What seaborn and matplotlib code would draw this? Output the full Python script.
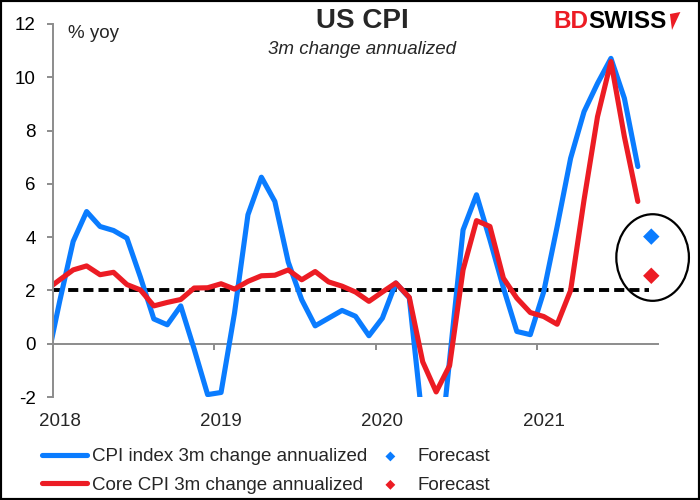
import numpy as np
import pandas as pd
import matplotlib
matplotlib.use("Agg")
import matplotlib.pyplot as plt
import seaborn as sns
from matplotlib.patches import Ellipse, Rectangle, Polygon
from matplotlib.transforms import blended_transform_factory

# ---------------- data ----------------
months = pd.period_range("2017-12", "2021-08", freq="M")
cpi_3m = [-0.8,
          1.6, 3.84, 4.96, 4.40, 4.25, 3.96, 2.5, 0.93, 0.71, 1.42, -0.2, -1.91,
          -1.83, 1.15, 4.84, 6.25, 5.34, 3.06, 1.65, 0.67, 0.96, 1.25, 1.03, 0.30,
          0.96, 2.28, 1.72, -3.0, -5.5, -0.6, 4.27, 5.59, 3.9, 2.1, 0.46, 0.34,
          1.95, 4.4, 6.96, 8.71, 9.77, 10.71, 9.21, 6.65]
core_3m = [2.02,
           2.40, 2.77, 2.92, 2.59, 2.68, 2.22, 2.02, 1.42, 1.55, 1.66, 2.09, 2.10,
           2.25, 2.05, 2.34, 2.55, 2.57, 2.77, 2.40, 2.71, 2.32, 2.16, 1.94, 1.59,
           1.94, 2.28, 1.74, -0.68, -1.81, -0.82, 2.77, 4.62, 4.40, 2.46, 1.71, 1.17,
           1.02, 0.73, 2.0, 5.4, 8.52, 10.59, 7.77, 5.34]
forecast_month = pd.Period("2021-09", freq="M")
cpi_forecast = 4.02
core_forecast = 2.55
target = 2.0
years = ["2018", "2019", "2020", "2021"]
yticks = [-2, 0, 2, 4, 6, 8, 10, 12]

labels_series = ["CPI index 3m change annualized", "Core CPI 3m change annualized"]
BLUE = "#0a7cff"
RED = "#ec1c24"
GRAY = "#8c8c8c"

start = pd.Period("2018-01", freq="M")
def pos(p):
    return (p - start).n + 0.5

df = pd.DataFrame({"x": [pos(p) for p in months], "cpi": cpi_3m, "core": core_3m})
fc = pd.DataFrame({"x": [pos(forecast_month)], "cpi": [cpi_forecast], "core": [core_forecast]})

# ---------------- style ----------------
sns.set_theme(style="white")
plt.rcParams["font.family"] = ["Liberation Sans", "DejaVu Sans"]
plt.rcParams["axes.unicode_minus"] = False

fig = plt.figure(figsize=(7, 5), dpi=100)
ax = fig.add_axes([53 / 700, 1 - 397 / 500, (658 - 53) / 700, (397 - 24) / 500])

sns.lineplot(data=df, x="x", y="cpi", ax=ax, color=BLUE, lw=3.7,
             label=labels_series[0], solid_joinstyle="round", solid_capstyle="round")
sns.lineplot(data=df, x="x", y="core", ax=ax, color=RED, lw=3.7,
             label=labels_series[1], solid_joinstyle="round", solid_capstyle="round")
sns.scatterplot(data=fc, x="x", y="cpi", ax=ax, marker="D", s=70, color=BLUE,
                edgecolor="none", label="Forecast", zorder=5, clip_on=False)
sns.scatterplot(data=fc, x="x", y="core", ax=ax, marker="D", s=70, color=RED,
                edgecolor="none", label="Forecast", zorder=5, clip_on=False)

# target line
tl, = ax.plot([0, pos(forecast_month) - 0.2], [target, target], color="black", lw=2.8,
              zorder=1)
tl.set_dashes((2.6, 1.3))

# circle around forecasts
ell = Ellipse((pos(forecast_month) + 0.1, (cpi_forecast + core_forecast) / 2 - 0.05),
              width=5.4, height=3.25, fill=False, ec="black", lw=1.6, clip_on=False)
ax.add_patch(ell)

ax.set_xlim(0, 45)
ax.set_ylim(-2, 12)
ax.set_yticks(yticks)
ax.set_yticklabels([str(v) for v in yticks], fontsize=13.5, color="black")
ax.set_xticks([0, 12, 24, 36])
ax.set_xticklabels([])
ax.set_xlabel("")
ax.set_ylabel("")

for s in ["top", "right"]:
    ax.spines[s].set_visible(False)
ax.spines["left"].set_color(GRAY)
ax.spines["left"].set_linewidth(1.4)
ax.spines["bottom"].set_position(("data", 0))
ax.spines["bottom"].set_color(GRAY)
ax.spines["bottom"].set_linewidth(1.4)
ax.spines["bottom"].set_zorder(0)
ax.tick_params(axis="y", direction="out", length=4.5, width=1.4, color=GRAY, pad=8, left=True)
ax.tick_params(axis="x", direction="out", length=4, width=1.4, color=GRAY, bottom=True)
ax.set_facecolor("white")

trans = blended_transform_factory(ax.transData, ax.transAxes)
for i, y in enumerate(years):
    ax.text(12 * i + 0.5, -0.065, y, transform=trans, ha="center", va="center", fontsize=13.5)

# texts
fig.text(0.517, 0.958, "US CPI", ha="center", va="center", fontsize=20, fontweight="bold")
fig.text(0.517, 0.9, "3m change annualized", ha="center", va="center", fontsize=13.5,
         style="italic")
fig.text(0.097, 0.932, "% yoy", ha="left", va="center", fontsize=13.5)

# logo
t1 = fig.text(0.79, 0.956, "BD", ha="left", va="center", fontsize=17.5, fontweight="bold",
              color=RED)
fig.canvas.draw()
bb = t1.get_window_extent()
fig.text(bb.x1 / 700, 0.956, "SWISS", ha="left", va="center", fontsize=17.5,
         fontweight="bold", color="black")
fig.patches.append(Polygon([[0.957, 0.972], [0.972, 0.976], [0.96, 0.94]], closed=True,
                           transform=fig.transFigure, fc=RED, ec="none"))

# legend
handles, labels = ax.get_legend_handles_labels()
if ax.get_legend() is not None:
    ax.get_legend().remove()
fig.legend(handles, labels, ncol=2, loc="center left", bbox_to_anchor=(0.06, 0.058),
           frameon=False, fontsize=13.5, handlelength=2.4, handletextpad=0.25,
           columnspacing=0.05, labelspacing=0.6, borderpad=0, borderaxespad=0,
           markerscale=0.6)

fig.patches.append(Rectangle((0, 0), 1, 1, transform=fig.transFigure, fill=False,
                             ec="black", lw=3))

fig.savefig("out.png", dpi=100, facecolor="white")
